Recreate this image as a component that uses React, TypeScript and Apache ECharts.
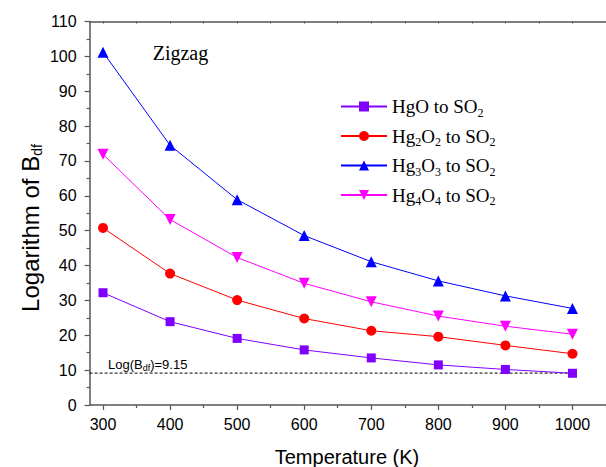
import React, { useEffect, useRef } from "react";
import * as echarts from "echarts";

const temps = [300, 400, 500, 600, 700, 800, 900, 1000];
const hgO = [32.2, 23.9, 19.1, 15.8, 13.5, 11.5, 10.2, 9.1];
const hg2O2 = [50.8, 37.7, 30.1, 24.8, 21.3, 19.6, 17.1, 14.7];
const hg3O3 = [101.2, 74.5, 58.9, 48.6, 41.1, 35.6, 31.3, 27.7];
const hg4O4 = [71.9, 53.2, 42.3, 34.9, 29.6, 25.5, 22.6, 20.3];
const seriesNames = ["HgO to SO2", "Hg2O2 to SO2", "Hg3O3 to SO2", "Hg4O4 to SO2"];
const legendRich = ["{a|HgO to SO}{s|2}", "{a|Hg}{s|2}{a|O}{s|2}{a| to SO}{s|2}", "{a|Hg}{s|3}{a|O}{s|3}{a| to SO}{s|2}", "{a|Hg}{s|4}{a|O}{s|4}{a| to SO}{s|2}"];
const refValue = 9.15;
const refRange = [280, 1000];
const majorX = [300, 400, 500, 600, 700, 800, 900, 1000];
const minorX = [350, 450, 550, 650, 750, 850, 950, 1050];
const allX = [300, 350, 400, 450, 500, 550, 600, 650, 700, 750, 800, 850, 900, 950, 1000, 1050];
const xTitle = "Temperature (K)";
const yTitle = "{a|Logarithm of B}{s|df}";

const SANS = "Liberation Sans";
const SERIF = "Liberation Serif";
const AX = "#555";

export default function App() {
  const ref = useRef<HTMLDivElement>(null);
  useEffect(() => {
    const chart = echarts.init(ref.current!, null, { renderer: "svg" });
    const pair = (arr: number[]) => temps.map((t, i) => [t, arr[i]]);
    const mk = (name: string, arr: number[], color: string, symbol: string, size: number, rot = 0) => ({
      name,
      type: "line",
      data: pair(arr),
      symbol,
      symbolSize: size,
      symbolRotate: rot,
      itemStyle: { color },
      lineStyle: { color, width: 1 },
      z: 3,
    });
    const baseX = {
      type: "value",
      min: 280,
      max: 1050,
      splitLine: { show: false },
    };
    chart.setOption({
      animation: false,
      backgroundColor: "#fff",
      grid: { left: 89.6, right: 0, top: 21.5, bottom: 62, containLabel: false },
      xAxis: [
        {
          ...baseX,
          position: "bottom",
          axisLine: { show: true, onZero: false, lineStyle: { color: AX, width: 1.5 } },
          axisTick: { show: true, inside: false, length: 5, customValues: majorX, lineStyle: { color: AX, width: 1.2 } },
          axisLabel: { customValues: majorX, fontFamily: SANS, fontSize: 16, color: "#000", margin: 11, formatter: (v: number) => String(v) },
        },
        {
          ...baseX,
          position: "bottom",
          axisLine: { show: false, onZero: false },
          axisTick: { show: true, inside: false, length: 3, customValues: minorX, lineStyle: { color: AX, width: 1.2 } },
          axisLabel: { show: false },
        },
        {
          ...baseX,
          position: "top",
          axisLine: { show: true, onZero: false, lineStyle: { color: AX, width: 1.5 } },
          axisTick: { show: true, inside: true, length: 2, customValues: allX, lineStyle: { color: AX, width: 1 } },
          axisLabel: { show: false },
        },
      ],
      yAxis: {
        type: "value",
        min: 0,
        max: 110,
        interval: 10,
        position: "left",
        splitLine: { show: false },
        axisLine: { show: true, onZero: false, lineStyle: { color: AX, width: 1.5 } },
        axisTick: { show: true, inside: false, length: 5, lineStyle: { color: AX, width: 1.2 } },
        minorTick: { show: true, splitNumber: 2, length: 3, lineStyle: { color: AX, width: 1.2 } },
        axisLabel: { fontFamily: SANS, fontSize: 16, color: "#000", margin: 13 },
      },
      legend: {
        orient: "vertical",
        left: 340,
        top: 97,
        padding: 0,
        itemWidth: 46,
        itemHeight: 12.5,
        itemGap: 8,
        data: seriesNames,
        formatter: (n: string) => legendRich[seriesNames.indexOf(n)],
        textStyle: {
          rich: {
            a: { fontFamily: SERIF, fontSize: 19, color: "#000", lineHeight: 24 },
            s: { fontFamily: SERIF, fontSize: 12, color: "#000", lineHeight: 12, verticalAlign: "bottom" },
          },
        },
      },
      graphic: [
        {
          type: "text",
          x: 152.7,
          y: 52.7,
          style: { text: "Zigzag", fontFamily: SERIF, fontSize: 20, fill: "#000", verticalAlign: "middle" },
        },
        {
          type: "text",
          x: 347,
          y: 457,
          style: { text: xTitle, fontFamily: SANS, fontSize: 20, fill: "#000", align: "center", verticalAlign: "middle" },
        },
        {
          type: "text",
          x: 30,
          y: 228,
          rotation: Math.PI / 2,
          style: {
            text: yTitle,
            align: "center",
            verticalAlign: "middle",
            rich: {
              a: { fontFamily: SANS, fontSize: 24, fill: "#000", lineHeight: 28 },
              s: { fontFamily: SANS, fontSize: 14, fill: "#000", lineHeight: 14, verticalAlign: "bottom" },
            },
          },
        },
        {
          type: "text",
          x: 108,
          y: 364,
          style: {
            text: "{a|Log(B}{s|df}{a|)=9.15}",
            verticalAlign: "middle",
            rich: {
              a: { fontFamily: SANS, fontSize: 13, fill: "#000", lineHeight: 16 },
              s: { fontFamily: SANS, fontSize: 9, fill: "#000", lineHeight: 9, verticalAlign: "bottom" },
            },
          },
        },
      ],
      series: [
        {
          name: "ref",
          type: "line",
          data: refRange.map((x) => [x, refValue]),
          symbol: "none",
          silent: true,
          lineStyle: { color: "#000", width: 1, type: [3, 2] },
          z: 2,
        },
        mk(seriesNames[0], hgO, "#8000FF", "rect", 9),
        mk(seriesNames[1], hg2O2, "#FF0000", "circle", 10),
        mk(seriesNames[2], hg3O3, "#0000FF", "triangle", 11),
        mk(seriesNames[3], hg4O4, "#FF00FF", "triangle", 11, 180),
      ],
    });
    return () => chart.dispose();
  }, []);
  return <div ref={ref} style={{ position: "fixed", left: 0, top: 0, width: 606, height: 467 }} />;
}
